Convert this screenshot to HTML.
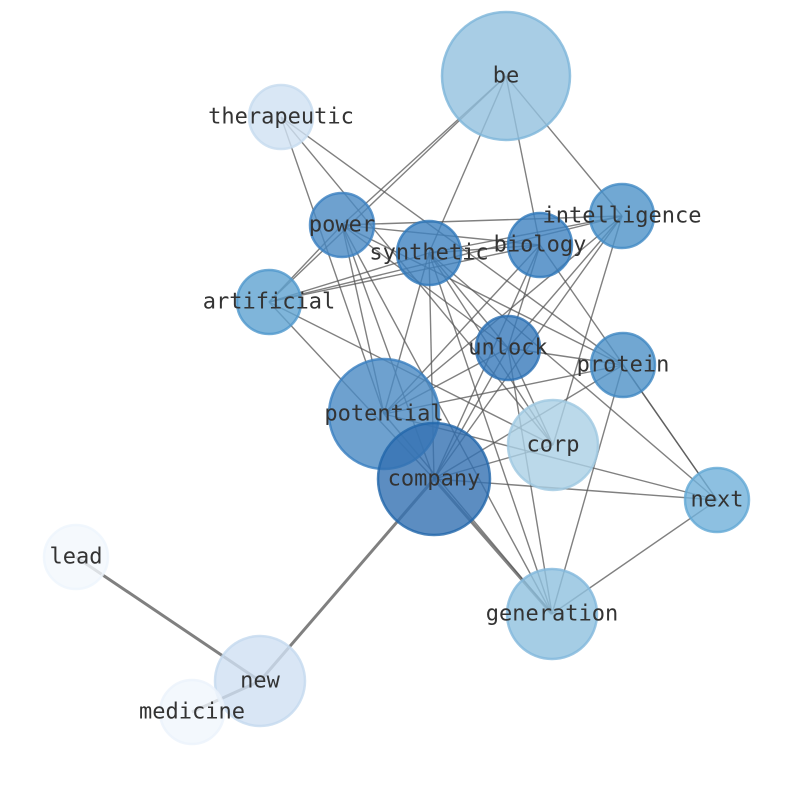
<!DOCTYPE html>
<html><head><style>body{margin:0;background:#fff}svg{display:block}</style></head><body>
<svg width="794" height="790" viewBox="0 0 794 790" xmlns="http://www.w3.org/2000/svg">
<g stroke="#555" stroke-opacity="0.75" stroke-width="1.4" fill="none">
<line x1="506" y1="76" x2="342" y2="225"/><line x1="506" y1="76" x2="269" y2="302"/><line x1="506" y1="76" x2="429" y2="253"/><line x1="506" y1="76" x2="540" y2="245"/><line x1="506" y1="76" x2="622" y2="216"/>
<line x1="281" y1="117" x2="384" y2="414"/><line x1="281" y1="117" x2="623" y2="365"/><line x1="281" y1="117" x2="553" y2="445"/>
<line x1="342" y1="225" x2="622" y2="216"/><line x1="342" y1="225" x2="540" y2="245"/><line x1="342" y1="225" x2="508" y2="348"/><line x1="342" y1="225" x2="269" y2="302"/><line x1="342" y1="225" x2="384" y2="414"/><line x1="342" y1="225" x2="434" y2="479"/><line x1="342" y1="225" x2="623" y2="365"/><line x1="342" y1="225" x2="552" y2="614"/>
<line x1="429" y1="253" x2="269" y2="302"/><line x1="429" y1="253" x2="622" y2="216"/><line x1="429" y1="253" x2="540" y2="245"/><line x1="429" y1="253" x2="508" y2="348"/><line x1="429" y1="253" x2="434" y2="479"/><line x1="429" y1="253" x2="384" y2="414"/><line x1="429" y1="253" x2="553" y2="445"/><line x1="429" y1="253" x2="717" y2="500"/><line x1="429" y1="253" x2="552" y2="614"/>
<line x1="540" y1="245" x2="269" y2="302"/><line x1="540" y1="245" x2="508" y2="348"/><line x1="540" y1="245" x2="434" y2="479"/><line x1="540" y1="245" x2="384" y2="414"/><line x1="540" y1="245" x2="717" y2="500"/>
<line x1="622" y1="216" x2="269" y2="302"/><line x1="622" y1="216" x2="508" y2="348"/><line x1="622" y1="216" x2="434" y2="479"/><line x1="622" y1="216" x2="384" y2="414"/><line x1="622" y1="216" x2="553" y2="445"/>
<line x1="269" y1="302" x2="434" y2="479"/><line x1="269" y1="302" x2="553" y2="445"/>
<line x1="508" y1="348" x2="623" y2="365"/><line x1="508" y1="348" x2="434" y2="479"/><line x1="508" y1="348" x2="384" y2="414"/><line x1="508" y1="348" x2="552" y2="614"/><line x1="508" y1="348" x2="553" y2="445"/>
<line x1="623" y1="365" x2="434" y2="479"/><line x1="623" y1="365" x2="384" y2="414"/><line x1="623" y1="365" x2="552" y2="614"/><line x1="623" y1="365" x2="717" y2="500"/>
<line x1="384" y1="414" x2="717" y2="500"/><line x1="384" y1="414" x2="552" y2="614"/>
<line x1="434" y1="479" x2="717" y2="500"/><line x1="434" y1="479" x2="553" y2="445"/>
<line x1="717" y1="500" x2="552" y2="614"/>
<line x1="434" y1="479" x2="552" y2="614" stroke-width="3"/><line x1="434" y1="479" x2="260" y2="681" stroke-width="3"/>
<line x1="76" y1="557" x2="260" y2="681" stroke-width="3"/><line x1="192" y1="712" x2="260" y2="681" stroke-width="3"/>
</g>
<g stroke-width="2.5" fill-opacity="0.8" stroke-opacity="0.8">
<circle cx="506" cy="76" r="64" fill="#92c1df" stroke="#7db5d9"/>
<circle cx="281" cy="117" r="32" fill="#d0e1f2" stroke="#c6dbef"/>
<circle cx="342" cy="225" r="32" fill="#4a89c3" stroke="#3a80c0"/>
<circle cx="429" cy="253" r="32" fill="#3f82c0" stroke="#2f78ba"/>
<circle cx="540" cy="245" r="32" fill="#3f82c0" stroke="#2f78ba"/>
<circle cx="622" cy="216" r="32" fill="#4e92c8" stroke="#4189c4"/>
<circle cx="269" cy="302" r="32" fill="#5fa3d1" stroke="#4f97cc"/>
<circle cx="508" cy="348" r="32" fill="#3779ba" stroke="#2a6fb3"/>
<circle cx="623" cy="365" r="32" fill="#4d91c7" stroke="#3f87c2"/>
<circle cx="384" cy="414" r="55" fill="#4a89c3" stroke="#3a80c0"/>
<circle cx="553" cy="445" r="45" fill="#aacfe5" stroke="#9fc8e1"/>
<circle cx="434" cy="479" r="56" fill="#3370b1" stroke="#2266aa"/>
<circle cx="717" cy="500" r="32" fill="#70b0d9" stroke="#62a7d4"/>
<circle cx="552" cy="614" r="45" fill="#8fc0df" stroke="#82b8dc"/>
<circle cx="76" cy="557" r="32" fill="#f2f7fd" stroke="#eef5fc"/>
<circle cx="260" cy="681" r="45" fill="#cfe0f2" stroke="#c4daef"/>
<circle cx="192" cy="712" r="32" fill="#f0f6fc" stroke="#ebf3fb"/>
</g>
<g font-family="'DejaVu Sans Mono','Liberation Mono',monospace" font-size="22" fill="#333" text-anchor="middle" dominant-baseline="central">
<text x="506" y="76">be</text><text x="281" y="117">therapeutic</text><text x="342" y="225">power</text><text x="429" y="253">synthetic</text><text x="540" y="245">biology</text><text x="622" y="216">intelligence</text><text x="269" y="302">artificial</text><text x="508" y="348">unlock</text><text x="623" y="365">protein</text><text x="384" y="414">potential</text><text x="553" y="445">corp</text><text x="434" y="479">company</text><text x="717" y="500">next</text><text x="552" y="614">generation</text><text x="76" y="557">lead</text><text x="260" y="681">new</text><text x="192" y="712">medicine</text>
</g>
</svg>
</body></html>
